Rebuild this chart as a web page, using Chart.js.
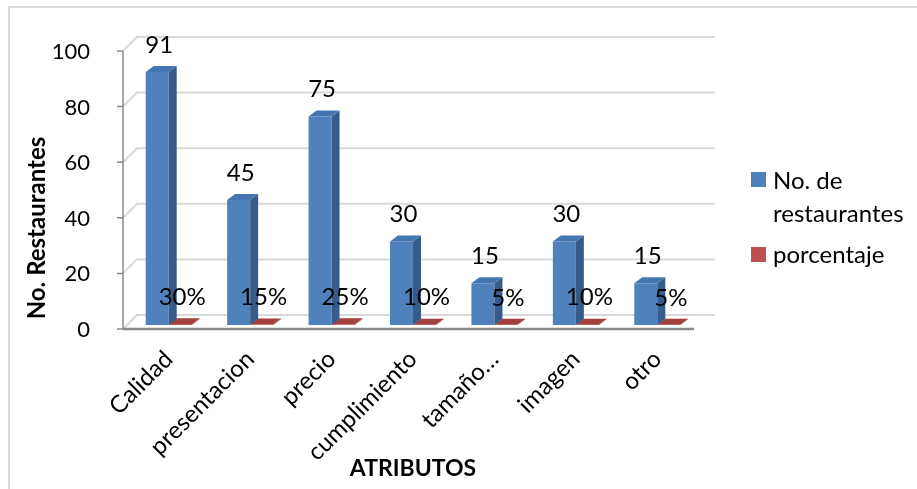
<!DOCTYPE html>
<html>
<head>
<meta charset="utf-8">
<script src="https://cdn.jsdelivr.net/npm/chart.js@4.4.1/dist/chart.umd.min.js"></script>
<style>
  html, body { margin: 0; padding: 0; background: #fff; }
  #wrap { width: 917px; height: 489px; position: relative; }
</style>
</head>
<body>
<div id="wrap"><canvas id="chart" width="917" height="489"></canvas></div>
<script>
const categories = ["Calidad", "presentacion", "precio", "cumplimiento", "tamaño…", "imagen", "otro"];
const restaurantes = [91, 45, 75, 30, 15, 30, 15];
const porcentaje = [0.30, 0.15, 0.25, 0.10, 0.05, 0.10, 0.05];
const yTicks = [0, 20, 40, 60, 80, 100];

const FONT = "Lato, 'Open Sans', sans-serif";
const DX = 8, DY = 6; // bar depth

const colors = [
  { front: "#4F81BD", top: "#4676B2", side: "#375C89" },
  { front: "#C0504D", top: "#A2403E", side: "#8C3835" }
];

// back wall, side wall and floor, the way excel draws its 3d columns
const wallPlugin = {
  id: "wall",
  beforeDatasetsDraw(chart) {
    const ctx = chart.ctx;
    const y = chart.scales.y;
    const a = chart.chartArea;
    const axX = a.left - 5;
    ctx.save();
    ctx.lineWidth = 2;
    ctx.strokeStyle = "#D9D9D9";
    yTicks.forEach(v => {
      const p = y.getPixelForValue(v);
      ctx.beginPath();
      ctx.moveTo(axX, p + 4);
      ctx.lineTo(axX + 14, p - 10);
      ctx.lineTo(a.right + 17, p - 10);
      ctx.stroke();
    });
    // front axis lines
    ctx.strokeStyle = "#898989";
    ctx.lineWidth = 1.5;
    ctx.beginPath();
    ctx.moveTo(axX, y.getPixelForValue(100) + 4);
    ctx.lineTo(axX, y.getPixelForValue(0) + 4);
    yTicks.forEach(v => {
      const p = y.getPixelForValue(v) + 4;
      ctx.moveTo(axX - 6, p);
      ctx.lineTo(axX, p);
    });
    ctx.stroke();
    ctx.lineWidth = 2.5;
    ctx.beginPath();
    ctx.moveTo(axX, y.getPixelForValue(0) + 4);
    ctx.lineTo(a.right - 4, y.getPixelForValue(0) + 4);
    ctx.stroke();
    ctx.restore();
  },
  afterDatasetDraw(chart, args) {
    const ctx = chart.ctx;
    const c = colors[args.index];
    const meta = chart.getDatasetMeta(args.index);
    ctx.save();
    meta.data.forEach(bar => {
      const p = bar.getProps(["x", "y", "base", "width"], true);
      const l = p.x - p.width / 2, r = p.x + p.width / 2;
      ctx.fillStyle = c.side;
      ctx.beginPath();
      ctx.moveTo(r, p.y);
      ctx.lineTo(r + DX, p.y - DY);
      ctx.lineTo(r + DX, p.base - DY);
      ctx.lineTo(r, p.base);
      ctx.closePath();
      ctx.fill();
      ctx.fillStyle = c.top;
      ctx.beginPath();
      ctx.moveTo(l, p.y);
      ctx.lineTo(l + DX, p.y - DY);
      ctx.lineTo(r + DX, p.y - DY);
      ctx.lineTo(r, p.y);
      ctx.closePath();
      ctx.fill();
    });
    ctx.restore();
  },
  afterDatasetsDraw(chart) {
    const ctx = chart.ctx;
    ctx.save();
    ctx.font = "24px " + FONT;
    ctx.fillStyle = "#000";
    ctx.textAlign = "center";
    ctx.textBaseline = "middle";
    chart.data.datasets.forEach((ds, i) => {
      chart.getDatasetMeta(i).data.forEach((bar, j) => {
        const v = ds.data[j];
        const txt = i === 0 ? String(v) : Math.round(v * 100) + "%";
        ctx.fillText(txt, bar.x + 2, bar.y - 27);
      });
    });
    ctx.restore();
  },
  afterDraw(chart) {
    const ctx = chart.ctx;
    ctx.save();
    // outer frame
    ctx.strokeStyle = "#D9D9D9";
    ctx.lineWidth = 2;
    ctx.beginPath();
    ctx.moveTo(9, 495);
    ctx.lineTo(9, 7);
    ctx.lineTo(925, 7);
    ctx.stroke();
    // y title
    ctx.font = "bold 24px " + FONT;
    ctx.fillStyle = "#000";
    ctx.translate(37, 228);
    ctx.rotate(-Math.PI / 2);
    ctx.textAlign = "center";
    ctx.textBaseline = "middle";
    ctx.fillText("No. Restaurantes", 0, 0);
    ctx.restore();
    // legend
    ctx.save();
    ctx.font = "24px " + FONT;
    ctx.textBaseline = "alphabetic";
    ctx.fillStyle = colors[0].front;
    ctx.fillRect(751, 172, 15, 15);
    ctx.fillStyle = colors[1].front;
    ctx.fillRect(751, 247, 15, 15);
    ctx.fillStyle = "#000";
    ctx.fillText("No. de", 773, 189);
    ctx.fillText("restaurantes", 773, 222);
    ctx.fillText("porcentaje", 773, 263);
    ctx.restore();
  }
};

new Chart(document.getElementById("chart"), {
  type: "bar",
  data: {
    labels: categories,
    datasets: [
      { label: "No. de restaurantes", data: restaurantes, backgroundColor: colors[0].front },
      { label: "porcentaje", data: porcentaje, backgroundColor: colors[1].front }
    ]
  },
  options: {
    responsive: false,
    animation: false,
    layout: { padding: { top: 47, right: 219, left: 0, bottom: 0 } },
    datasets: { bar: { categoryPercentage: 0.565, barPercentage: 1 } },
    plugins: { legend: { display: false }, tooltip: { enabled: false } },
    scales: {
      x: {
        grid: { display: false },
        border: { display: false },
        ticks: { autoSkip: false, minRotation: 45, maxRotation: 45, padding: 12,
                 color: "#000", font: { family: FONT, size: 24 } },
        title: { display: true, text: "ATRIBUTOS", color: "#000",
                 font: { family: FONT, size: 23, weight: "bold" }, padding: { top: 0, bottom: 7 } },
        afterFit(s) { s.height = 164; }
      },
      y: {
        min: 0, max: 100,
        grid: { display: false },
        border: { display: false },
        ticks: { stepSize: 20, padding: 30, labelOffset: 5,
                 color: "#000", font: { family: FONT, size: 22 } },
        afterFit(s) { s.width = 128; }
      }
    }
  },
  plugins: [wallPlugin]
});
</script>
</body>
</html>
